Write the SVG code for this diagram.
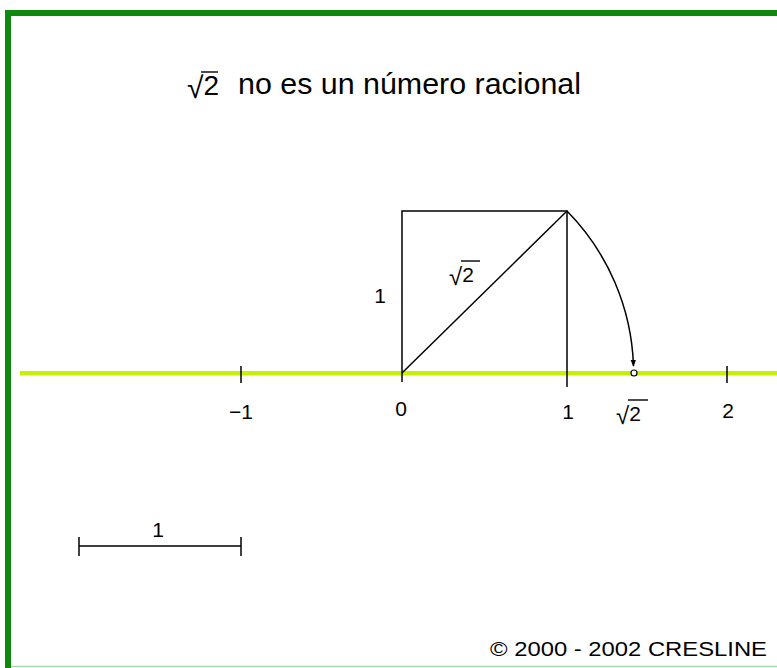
<svg xmlns="http://www.w3.org/2000/svg" width="777" height="668" viewBox="0 0 777 668">
<style>
  .t { font-family: "Liberation Sans", Arial, sans-serif; fill: #000; }
  .lbl { font-size: 21px; text-anchor: middle; }
  .rad { font-size: 24px; }
  .ln { stroke: #000; stroke-width: 1.5; fill: none; }
  .vinc { stroke: #000; stroke-width: 1.4; }
</style>
<defs>
  <marker id="arr" viewBox="0 0 10 10" refX="9" refY="5" markerWidth="7" markerHeight="7" orient="auto" markerUnits="userSpaceOnUse">
    <path d="M0,1 L10,5 L0,9 z" fill="#000"/>
  </marker>
</defs>
<rect x="0" y="0" width="777" height="668" fill="#fff"/>
<g id="frame">
  <rect x="5" y="10" width="772" height="6" fill="#0d8a0d"/>
  <rect x="5" y="10" width="6" height="658" fill="#0d8a0d"/>
  <line x1="11" y1="666.5" x2="777" y2="666.5" stroke="#a8d8a8" stroke-width="1.5"/>
</g>
<g id="title">
  <text class="t" x="187" y="98" font-size="30">√<tspan font-size="28" dy="-3">2</tspan></text>
  <line class="vinc" x1="201" y1="72" x2="218" y2="72"/>
  <text class="t" x="238" y="94" font-size="29" textLength="343" lengthAdjust="spacingAndGlyphs">no es un número racional</text>
</g>
<g id="number-line">
  <rect x="20" y="371" width="757" height="4.5" fill="#c8ee00"/>
  <line class="ln" x1="241" y1="366" x2="241" y2="383"/>
  <line class="ln" x1="402" y1="373" x2="402" y2="382"/>
  <line class="ln" x1="567" y1="373" x2="567" y2="387"/>
  <line class="ln" x1="727" y1="366" x2="727" y2="383"/>
  <text class="t lbl" x="241" y="419">−1</text>
  <text class="t lbl" x="401" y="416">0</text>
  <text class="t lbl" x="568" y="419">1</text>
  <text class="t lbl" x="728" y="418">2</text>
  <text class="t rad" x="616" y="424">√<tspan font-size="21" dy="-3">2</tspan></text>
  <line class="vinc" x1="628" y1="400" x2="648" y2="400"/>
</g>
<g id="square">
  <polyline class="ln" points="402,373 402,211 567,211 567,373"/>
  <line class="ln" x1="402" y1="373" x2="567" y2="211" stroke-width="1.2"/>
  <text class="t lbl" x="380" y="303">1</text>
  <text class="t rad" x="449" y="285">√<tspan font-size="21" dy="-3">2</tspan></text>
  <line class="vinc" x1="461" y1="261" x2="480" y2="261"/>
</g>
<g id="connectors">
  <path class="ln" d="M567,211 A232,232 0 0,1 633.5,366" stroke-width="1.3" marker-end="url(#arr)"/>
  <circle cx="634" cy="373" r="3" fill="#fff" stroke="#000" stroke-width="1.2"/>
</g>
<g id="scale">
  <line class="ln" x1="79" y1="546" x2="241" y2="546"/>
  <line class="ln" x1="79" y1="537" x2="79" y2="556"/>
  <line class="ln" x1="241" y1="537" x2="241" y2="556"/>
  <text class="t lbl" x="158" y="537">1</text>
</g>
<g id="copyright">
  <text class="t" x="490" y="656" font-size="21" textLength="277" lengthAdjust="spacingAndGlyphs">© 2000 - 2002 CRESLINE</text>
</g>
</svg>
